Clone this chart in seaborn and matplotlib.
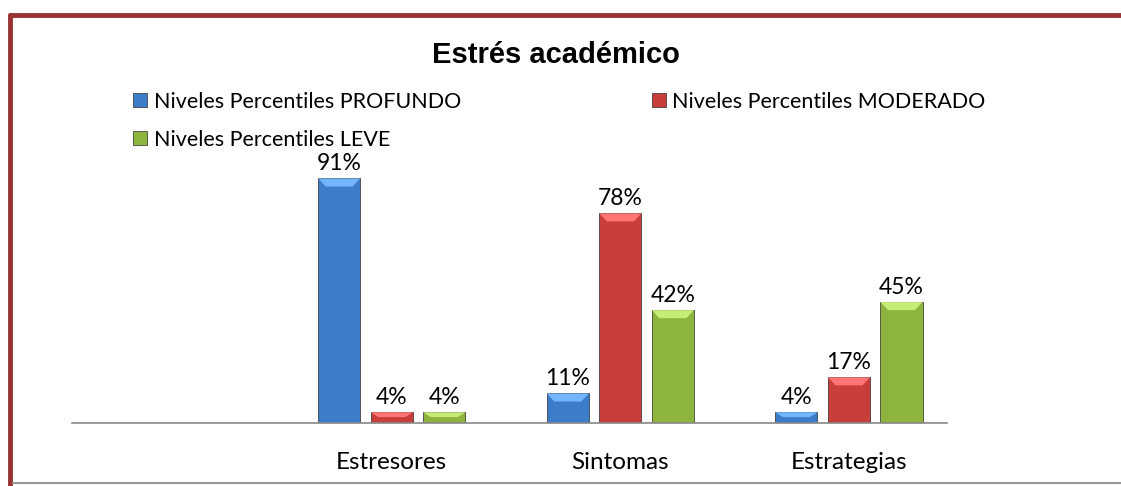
import matplotlib
matplotlib.use("Agg")
import matplotlib.pyplot as plt
from matplotlib.lines import Line2D
from matplotlib.patches import Polygon
from matplotlib.colors import to_rgb
import pandas as pd
import seaborn as sns

# -----------------------------------------------------------------------------
# DATOS
# -----------------------------------------------------------------------------
categorias = ["Estresores", "Sintomas", "Estrategias"]
niveles = [
    "Niveles Percentiles PROFUNDO",
    "Niveles Percentiles MODERADO",
    "Niveles Percentiles LEVE",
]
profundo = [91, 11, 4]
moderado = [4, 78, 17]
leve = [4, 42, 45]
colores = ["#3D7CC9", "#C93D3B", "#8DB53D"]

df = pd.DataFrame(
    {
        "categoria": categorias * 3,
        "nivel": [n for n in niveles for _ in categorias],
        "valor": profundo + moderado + leve,
    }
)

sns.set_style("white")
plt.rcParams["font.family"] = ["Lato", "DejaVu Sans"]
plt.rcParams["text.color"] = "black"
plt.rcParams["xtick.color"] = "black"

fig = plt.figure(figsize=(11.21, 4.86), dpi=100)
ax = fig.add_axes([0.064, 0.1296, 0.781, 0.553])

sns.barplot(
    data=df,
    x="categoria",
    y="valor",
    hue="nivel",
    order=categorias,
    hue_order=niveles,
    palette=colores,
    saturation=1,
    width=0.69,
    gap=0.2,
    edgecolor="#2b2b2b",
    linewidth=0.5,
    legend=False,
    ax=ax,
)

# efecto bisel: franja superior mas clara
for container in ax.containers:
    for p in container.patches:
        x0, y0 = p.get_x(), p.get_y()
        w, h = p.get_width(), p.get_height()
        bh = min(3.0, h * 0.45)
        dx = w * 0.18
        light = tuple(min(1, c + 0.22) for c in to_rgb(p.get_facecolor()))
        ax.add_patch(Polygon(
            [(x0, y0 + h), (x0 + w, y0 + h), (x0 + w - dx, y0 + h - bh),
             (x0 + dx, y0 + h - bh)],
            closed=True, facecolor=light, edgecolor="none", zorder=p.get_zorder() + 0.1,
        ))

for container in ax.containers:
    ax.bar_label(
        container,
        labels=[f"{v:.0f}%" for v in container.datavalues],
        padding=3,
        fontsize=16.5,
        color="black",
        clip_on=False,
    )

ax.set_xlim(-1.4, 2.43)
ax.set_ylim(0, 100)
ax.set_xlabel("")
ax.set_ylabel("")
ax.set_yticks([])
ax.tick_params(axis="x", length=0, pad=21, labelsize=17.5, labelcolor="black")
for s in ["top", "right", "left"]:
    ax.spines[s].set_visible(False)
ax.spines["bottom"].set_color("#888888")
ax.spines["bottom"].set_linewidth(1.2)

# titulo y leyenda
fig.text(0.4955, 0.886, "Estrés académico", ha="center", va="center",
         fontsize=21, fontweight="bold", family="Liberation Sans", color="black")

handles = [
    plt.Rectangle((0, 0), 1, 1, facecolor=c, edgecolor="#2b2b2b", linewidth=0.5)
    for c in colores
]
# orden por filas: PROFUNDO, MODERADO / LEVE
orden = [0, 2, 1]
leg = fig.legend(
    [handles[i] for i in orden],
    [niveles[i] for i in orden],
    loc="upper left",
    bbox_to_anchor=(0.119, 0.811),
    ncol=2,
    frameon=False,
    fontsize=15.5,
    handlelength=0.65,
    handleheight=0.65,
    handletextpad=0.3,
    columnspacing=8.85,
    labelspacing=0.82,
    borderaxespad=0,
    borderpad=0,
)
for t in leg.get_texts():
    t.set_color("black")

# marco del grafico
fig.add_artist(Line2D([0.009, 0.009], [0.0, 0.969], color="#993333", lw=3.5))
fig.add_artist(Line2D([0.009, 1.0], [0.969, 0.969], color="#993333", lw=3.5))
fig.add_artist(Line2D([0.012, 1.0], [0.006, 0.006], color="#999999", lw=1.5))

fig.savefig("out.png", dpi=100)
